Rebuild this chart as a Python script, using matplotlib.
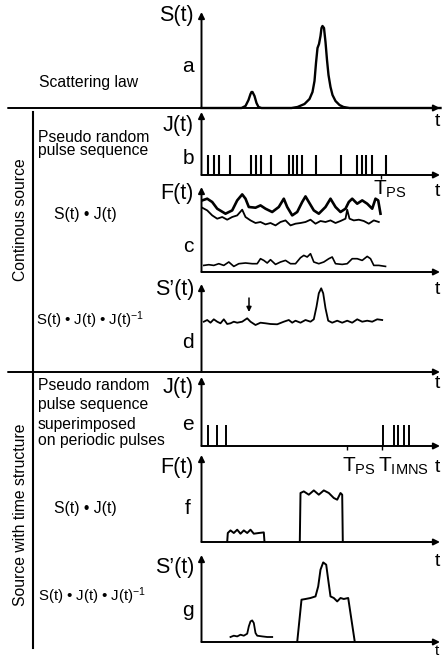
import numpy as np
import matplotlib
matplotlib.use("Agg")
import matplotlib.pyplot as plt

plt.rcParams['font.family'] = ['Liberation Sans', 'DejaVu Sans']
plt.rcParams['mathtext.fontset'] = 'custom'
plt.rcParams['mathtext.rm'] = 'Liberation Sans'
plt.rcParams['mathtext.it'] = 'Liberation Sans:italic'

# Courbes (t en unités arbitraires, amplitude au-dessus de la ligne de base)
# a : loi de diffusion
a_t = [0, 40, 44, 47, 49, 50, 51, 53, 55, 57, 60, 90, 96, 103, 108, 111, 113,
       114.5, 116, 117.5, 119, 120, 121, 122.5, 124, 125.5, 127, 129, 131, 134, 138, 142, 148, 239]
a_s = [0, 0, 2, 8, 14, 16, 16, 12, 5, 1, 0, 0, 1, 4, 9, 16, 27,
       45, 60, 64, 72, 80, 82, 80, 66, 48, 33, 21, 13, 7, 3, 1, 0, 0]

# b : séquence pseudo-aléatoire
b_pulses = [6.7, 12.3, 17.3, 28.3, 49, 54, 59.7, 69, 87.3, 91.7, 95.7, 100.7,
            114, 139, 155.7, 160.7, 164.7, 170.7, 184]
b_height = 20
t_ps_b = 179

# c : S(t)*J(t), trois courbes
c1_t = [0.7, 5.7, 10.7, 15.7, 24, 30.7, 35.7, 40.7, 44, 47.3, 54, 59, 64, 70.7, 77.3,
        82.3, 85.7, 90.7, 95.7, 100.7, 104, 107.3, 112.3, 117.3, 124, 129, 134, 139, 144,
        147.3, 150.7, 155.7, 160.7, 165.7, 170.7, 174, 176.7, 179]
c1_f = [71.6, 73.3, 70, 63.3, 58.3, 61.6, 71.6, 77.6, 73.3, 65, 64.3, 66.6, 63.3, 60, 65,
        73.3, 65, 56.6, 60, 70, 75.6, 70, 61.6, 58.3, 65, 73.3, 65, 60, 63.3,
        70, 73.3, 68.3, 71.6, 68.3, 63.3, 73.3, 71.6, 58.3]
c2_t = [0.7, 5.7, 10.7, 15.7, 20.7, 25.7, 30.7, 35.7, 40.7, 44, 49, 54, 59, 64, 69, 74,
        79, 84, 89, 94, 99, 104, 109, 114, 119, 124, 129, 134, 139, 144, 145.7, 148,
        152.3, 157.3, 162.3, 167.3, 172.3, 177.3]
c2_f = [64.3, 61.6, 56.6, 53.3, 55, 52.3, 55, 56.6, 62.3, 55, 51.6, 49, 50, 47.6, 49, 46.6,
        50, 51.6, 46.6, 48.3, 49, 50, 52.3, 48.3, 51, 50, 51.6, 49, 51, 53.3, 62.3, 53.3,
        51.6, 52.3, 51, 48.3, 51.6, 50]
c3_t = [2.3, 7.3, 12.3, 17.3, 22.3, 27.3, 32.3, 37.3, 44, 50.7, 55.7, 59, 62.3, 65.7, 69,
        74, 79, 84, 89, 94, 99, 102.3, 105.7, 109, 112.3, 117.3, 122.3, 127.3, 130.7, 134,
        140.7, 145.7, 150.7, 155.7, 160.7, 165.7, 169, 172.3, 177.3, 184]
c3_f = [6.6, 7.3, 6.6, 8.3, 6.6, 10, 5.6, 8.3, 9, 8.3, 8.3, 13.3, 11.6, 9, 12.3,
        7.6, 10, 11.6, 8.3, 8.3, 14.3, 16.6, 15, 18.3, 10, 8.3, 10, 13.3, 15, 8.3,
        7.6, 8.3, 13.3, 13.3, 11.6, 15.6, 13.3, 6.6, 6.6, 5.6]

# d : S(t)*J(t)*J(t)^-1
d_t = [2.3, 5.7, 9, 12.3, 15.7, 19, 22.3, 25.7, 29, 32.3, 35.7, 40.7, 45.7, 49, 54, 59,
       64, 69, 75.7, 82.3, 87.3, 90.7, 94, 99, 104, 109, 112.3, 115, 117.3, 119.7, 121.7,
       124, 126.7, 130.7, 135.7, 140.7, 145.7, 150.7, 155.7, 160.7, 165.7, 170.7, 175.7, 180.7]
d_s = [50.3, 52, 49.3, 52.7, 50.3, 48.7, 52.7, 48, 48.7, 50.3, 49.3, 50.3, 53.7, 50.3, 47, 49.3,
       48.7, 48, 47.7, 50.3, 52, 49.3, 51.3, 49.3, 52, 50.3, 52.7, 65.3, 78.7, 83.7, 78.7,
       63.7, 51.3, 49.3, 51.3, 49.3, 51.3, 49.3, 52.7, 50.3, 51.3, 50.3, 52.7, 52]
d_mark = 47.5

# e : séquence superposée à des impulsions périodiques
e_pulses = [6, 15.5, 24.5, 181, 192.3, 196.3, 202.3, 207]
e_height = 21
e_tps = 145.5
e_timns = 180.5

# f : S(t)*J(t) avec structure temporelle
f1_t = [25.7, 26.3, 29, 32.3, 35.7, 39, 42.3, 45.7, 49, 52.3, 57.3, 62.3, 63]
f1_f = [0, 9, 11.6, 9, 12.3, 8.3, 11.6, 9, 12.3, 8.3, 9, 9.6, 0]
f2_t = [98.3, 99, 102.3, 107.3, 112.3, 117.3, 122.3, 127.3, 132.3, 135.7, 139, 140.7, 141.3]
f2_f = [0, 49, 50.6, 47.3, 51.6, 47.3, 51.6, 49, 44, 42.3, 49, 47.3, 0]

# g : S(t)*J(t)*J(t)^-1 avec structure temporelle
g1_t = [29, 32.3, 35.7, 39, 42.3, 45.7, 47.3, 49, 50.7, 52.3, 54, 55.7, 60.7, 65.7, 70.7]
g1_s = [5, 6.3, 5.6, 7.3, 6.3, 8.3, 15.6, 20.6, 21.6, 19, 9, 6.3, 5.6, 5, 5]
g2_t = [95.7, 100, 104, 109, 114, 116.7, 119, 121.7, 124.7, 126.7, 129, 132.3, 135.7,
        139, 142.3, 146.7, 153.3]
g2_s = [0, 42.3, 43, 44, 45.6, 55.6, 72.3, 79.6, 77.3, 62.3, 45.6, 44, 40.6,
        44, 43, 44, 0]

W, H = 442, 659
X0, X1 = 201.5, 440
fig = plt.figure(figsize=(4.42, 6.59), dpi=100)
bg = fig.add_axes([0, 0, 1, 1])
bg.set_xlim(0, W)
bg.set_ylim(H, 0)
bg.axis('off')

arrow = dict(arrowstyle='-|>', color='k', lw=1.4, mutation_scale=9, shrinkA=0, shrinkB=0)


def panel(base, top, left=X0):
    ax = fig.add_axes([X0 / W, 1 - base / H, (X1 - X0) / W, (base - top) / H])
    ax.set_xlim(0, X1 - X0)
    ax.set_ylim(0, base - top)
    ax.axis('off')
    bg.annotate('', xy=(X0, top), xytext=(X0, base), arrowprops=arrow)
    bg.annotate('', xy=(X1, base), xytext=(left, base), arrowprops=arrow)
    return ax


lab = dict(fontsize=15.5, ha='right', va='center')
let = dict(fontsize=15, ha='center', va='center')
txt = dict(fontsize=11.3, ha='left', va='center')
tl = dict(fontsize=14, ha='center', va='center')
conv = 'S(t) • J(t)'
deconv = r'S(t) • J(t) • J(t)$^{-1}$'

# a
ax = panel(108, 12, left=8)
ax.plot(a_t, a_s, color='k', lw=1.7, clip_on=False)
bg.text(194, 16, 'S(t)', **lab)
bg.text(188, 66, 'a', **let)
bg.text(39, 83, 'Scattering law', **txt)
bg.text(437, 122, 't', **tl)

# b
ax = panel(175, 112)
ax.vlines(b_pulses, 0, b_height, color='k', lw=1.5)
ax.vlines([t_ps_b], -4, 0, color='k', lw=1.0, clip_on=False)
bg.text(194, 125, 'J(t)', **lab)
bg.text(188, 158, 'b', **let)
bg.text(38, 137, 'Pseudo random', **txt)
bg.text(38, 151, 'pulse sequence', **txt)
bg.text(437, 192, 't', **tl)

# c
ax = panel(272, 187)
ax.plot(c1_t, c1_f, color='k', lw=1.9)
ax.plot(c2_t, c2_f, color='k', lw=1.3)
ax.plot(c3_t, c3_f, color='k', lw=1.2)
bg.text(194, 194, 'F(t)', **lab)
bg.text(188, 246, 'c', **let)
bg.text(54, 214, conv, **txt)
bg.text(373, 189, r'T$_{\mathrm{PS}}$', fontsize=15, ha='left', va='center')
bg.text(437, 289, 't', **tl)

# d
ax = panel(372, 284, left=8)
ax.plot(d_t, d_s, color='k', lw=1.3)
ax.annotate('', xy=(d_mark, 60), xytext=(d_mark, 74),
            arrowprops=dict(arrowstyle='-|>', color='k', lw=1.1, mutation_scale=7,
                            shrinkA=0, shrinkB=0))
bg.text(194, 290, 'S’(t)', **lab)
bg.text(188, 342, 'd', **let)
bg.text(36, 320, deconv, fontsize=10.8, ha='left', va='center')
bg.text(437, 383, 't', **tl)

# e
ax = panel(446, 377)
ax.vlines(e_pulses, 0, e_height, color='k', lw=1.4)
ax.vlines([e_tps, e_timns], -4, 1, color='k', lw=1.0, clip_on=False)
bg.text(194, 387, 'J(t)', **lab)
bg.text(188, 424, 'e', **let)
bg.text(38, 386, 'Pseudo random', **txt)
bg.text(38, 405, 'pulse sequence', **txt)
bg.text(38, 424, 'superimposed', **txt)
bg.text(38, 440, 'on periodic pulses', **txt)
bg.text(342, 466, r'T$_{\mathrm{PS}}$', fontsize=15, ha='left', va='center')
bg.text(378, 466, r'T$_{\mathrm{IMNS}}$', fontsize=15, ha='left', va='center')
bg.text(437, 467, 't', **tl)

# f
ax = panel(542, 455)
ax.plot(f1_t, f1_f, color='k', lw=1.4)
ax.plot(f2_t, f2_f, color='k', lw=1.4)
bg.text(194, 467, 'F(t)', **lab)
bg.text(188, 509, 'f', **let)
bg.text(54, 508, conv, **txt)
bg.text(437, 561, 't', **tl)

# g
ax = panel(642, 555)
ax.plot(g1_t, g1_s, color='k', lw=1.3)
ax.plot(g2_t, g2_s, color='k', lw=1.4)
bg.text(194, 567, 'S’(t)', **lab)
bg.text(188, 610, 'g', **let)
bg.text(38, 596, deconv, fontsize=10.8, ha='left', va='center')
bg.text(437, 651, 't', fontsize=11, ha='center', va='center')

# cadre de gauche
bg.plot([33, 33], [112, 648], color='k', lw=1.5)
bg.text(21, 220, 'Continous source', fontsize=11.3, rotation=90, ha='center', va='center')
bg.text(21, 515, 'Source with time structure', fontsize=11.3, rotation=90,
        ha='center', va='center')

fig.savefig('out.png', dpi=100)
